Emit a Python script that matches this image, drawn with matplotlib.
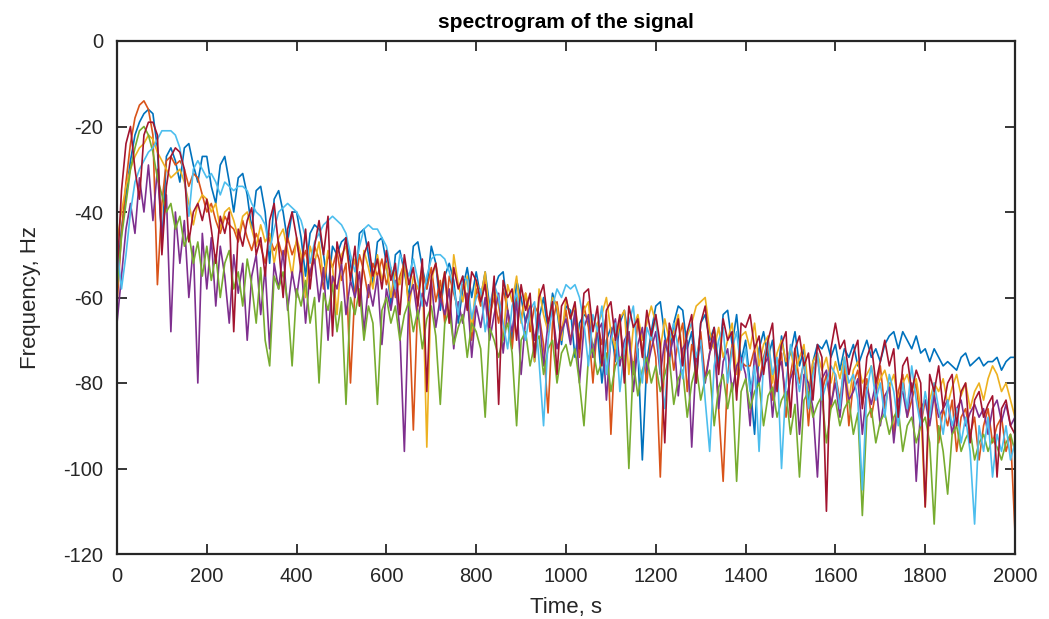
import numpy as np
import matplotlib
matplotlib.use("Agg")
import matplotlib.pyplot as plt

plt.rcParams['font.family'] = ['Liberation Sans Narrow', 'Liberation Sans', 'DejaVu Sans']
plt.rcParams['axes.unicode_minus'] = False

# time axis (s), sampled every 10 s
time_s = np.arange(0, 2001, 10)

blue = [
    -55, -44, -36, -28, -22, -19, -17, -16, -17, -25, -48, -27, -25, -28, -33, -25, -24, -29, -33, -27,
    -27, -34, -38, -29, -27, -33, -40, -32, -31, -36, -44, -35, -34, -40, -52, -37, -35, -40, -47, -40,
    -40, -46, -55, -45, -43, -44, -50, -58, -48, -50, -47, -46, -52, -60, -45, -44, -50, -57, -47, -46,
    -52, -62, -50, -49, -54, -60, -48, -47, -53, -58, -48, -52, -63, -55, -52, -56, -66, -58, -53, -60,
    -54, -60, -54, -62, -58, -55, -54, -63, -70, -56, -60, -66, -62, -75, -65, -60, -68, -59, -63, -71,
    -62, -63, -74, -66, -64, -65, -72, -68, -80, -70, -67, -75, -66, -63, -70, -78, -72, -98, -75, -68,
    -62, -61, -69, -75, -66, -62, -63, -72, -68, -80, -66, -64, -70, -67, -76, -64, -63, -71, -64, -75,
    -70, -80, -92, -72, -68, -74, -70, -81, -69, -76, -73, -68, -76, -72, -84, -75, -71, -72, -70, -74,
    -71, -77, -72, -74, -71, -76, -73, -70, -74, -72, -75, -71, -69, -68, -72, -68, -70, -72, -69, -73,
    -72, -75, -72, -74, -76, -75, -76, -77, -74, -73, -76, -75, -74, -76, -75, -75, -74, -77, -75, -74,
    -74]

orange = [
    -62, -45, -33, -24, -18, -15, -14, -16, -22, -57, -38, -28, -27, -29, -28, -30, -34, -31, -32, -36,
    -40, -38, -42, -45, -41, -43, -44, -47, -42, -46, -49, -45, -48, -52, -46, -49, -47, -51, -46, -50,
    -47, -52, -49, -55, -48, -51, -58, -50, -53, -49, -56, -52, -80, -58, -50, -54, -60, -52, -55, -51,
    -57, -53, -60, -55, -52, -62, -91, -60, -54, -58, -53, -61, -56, -66, -55, -59, -63, -57, -60, -70,
    -58, -62, -56, -64, -60, -66, -58, -63, -72, -60, -65, -59, -68, -62, -64, -71, -87, -66, -61, -68,
    -63, -70, -65, -74, -62, -67, -80, -66, -71, -64, -92, -70, -66, -75, -68, -78, -65, -72, -80, -68,
    -74, -102, -72, -68, -77, -70, -66, -82, -71, -75, -68, -79, -73, -70, -86, -103, -78, -71, -82, -75,
    -76, -76, -72, -80, -74, -70, -84, -76, -73, -88, -78, -72, -80, -75, -90, -77, -74, -82, -78, -86,
    -78, -84, -76, -90, -80, -77, -85, -79, -88, -82, -76, -86, -80, -92, -82, -78, -88, -84, -80, -90,
    -84, -88, -82, -94, -86, -90, -84, -96, -88, -86, -92, -88, -98, -90, -86, -94, -90, -88, -96, -92,
    -115]

yellow = [
    -47, -40, -34, -30, -27, -25, -24, -22, -23, -26, -28, -30, -32, -31, -30, -33, -38, -43, -38, -36,
    -37, -40, -38, -44, -40, -39, -42, -46, -41, -40, -44, -48, -43, -47, -45, -52, -46, -44, -49, -55,
    -46, -50, -60, -48, -52, -47, -56, -49, -53, -64, -50, -48, -55, -51, -62, -49, -53, -58, -50, -56,
    -52, -60, -54, -57, -51, -63, -55, -58, -53, -95, -56, -52, -59, -54, -66, -50, -57, -61, -55, -68,
    -56, -60, -54, -65, -58, -62, -70, -57, -61, -55, -66, -59, -63, -75, -58, -64, -68, -60, -62, -70,
    -60, -65, -62, -70, -63, -61, -74, -66, -64, -60, -68, -72, -65, -63, -78, -67, -64, -70, -66, -62,
    -66, -72, -65, -70, -68, -64, -74, -69, -66, -62, -61, -60, -68, -72, -67, -74, -70, -66, -78, -69,
    -68, -72, -66, -76, -71, -69, -80, -73, -70, -75, -72, -78, -74, -71, -82, -75, -73, -77, -74, -80,
    -75, -79, -74, -84, -77, -75, -80, -78, -76, -82, -79, -77, -81, -78, -84, -80, -78, -82, -79, -86,
    -109, -84, -80, -82, -79, -85, -81, -78, -83, -80, -86, -82, -80, -84, -79, -76, -78, -82, -80, -84,
    -88]

purple = [
    -66, -55, -44, -38, -45, -32, -40, -29, -42, -30, -46, -36, -68, -40, -52, -42, -60, -48, -80, -45,
    -58, -46, -62, -48, -55, -66, -50, -59, -52, -70, -55, -50, -64, -53, -72, -52, -58, -49, -63, -54,
    -60, -52, -66, -54, -51, -61, -53, -70, -55, -58, -52, -64, -56, -60, -54, -68, -57, -62, -55, -71,
    -58, -63, -56, -68, -96, -60, -57, -65, -59, -62, -56, -67, -60, -64, -58, -72, -61, -66, -59, -74,
    -62, -67, -60, -70, -64, -59, -73, -63, -68, -61, -78, -65, -62, -70, -64, -76, -66, -63, -72, -68,
    -65, -71, -63, -80, -67, -64, -74, -68, -66, -84, -69, -65, -76, -70, -68, -82, -71, -67, -77, -72,
    -68, -78, -70, -74, -69, -83, -72, -70, -95, -74, -71, -80, -73, -69, -86, -75, -72, -82, -76, -74,
    -78, -90, -73, -80, -76, -74, -88, -77, -75, -84, -79, -76, -92, -78, -80, -86, -102, -79, -77, -85,
    -80, -88, -78, -84, -82, -79, -92, -81, -85, -80, -90, -83, -81, -94, -84, -82, -88, -80, -103, -86,
    -84, -90, -83, -88, -86, -84, -92, -86, -84, -90, -87, -85, -88, -86, -92, -86, -84, -89, -85, -90,
    -88]

green = [
    -58, -46, -38, -30, -25, -21, -20, -22, -26, -32, -36, -40, -38, -44, -41, -48, -45, -52, -47, -55,
    -48, -56, -50, -60, -52, -49, -58, -54, -62, -51, -57, -66, -53, -70, -76, -55, -58, -54, -61, -76,
    -58, -62, -56, -66, -60, -80, -59, -63, -57, -68, -61, -85, -60, -64, -58, -70, -62, -66, -85, -63,
    -60, -66, -62, -70, -64, -61, -68, -63, -72, -65, -62, -69, -85, -66, -63, -71, -67, -64, -74, -66,
    -68, -72, -88, -67, -70, -74, -69, -66, -73, -90, -70, -68, -76, -71, -69, -78, -72, -70, -80, -73,
    -71, -76, -72, -80, -90, -74, -72, -78, -75, -73, -82, -76, -74, -74, -100, -75, -83, -77, -74, -80,
    -76, -82, -78, -74, -85, -79, -77, -88, -80, -76, -84, -79, -77, -90, -81, -78, -86, -80, -103, -82,
    -79, -86, -82, -80, -90, -83, -81, -88, -84, -82, -92, -85, -102, -84, -82, -88, -85, -83, -94, -86,
    -84, -90, -86, -84, -92, -87, -111, -88, -86, -94, -89, -87, -92, -88, -86, -96, -90, -88, -94, -90,
    -88, -94, -113, -90, -96, -106, -92, -90, -96, -93, -91, -98, -94, -92, -96, -93, -95, -98, -94, -92,
    -96]

light_blue = [
    -48, -58, -50, -40, -33, -30, -28, -26, -25, -23, -21, -21, -21, -22, -25, -32, -41, -30, -28, -30,
    -32, -31, -33, -36, -33, -34, -35, -34, -34, -35, -38, -40, -41, -43, -49, -44, -40, -39, -38, -39,
    -40, -42, -46, -52, -47, -45, -43, -42, -41, -42, -43, -45, -50, -54, -48, -44, -43, -44, -44, -46,
    -48, -53, -58, -50, -52, -55, -51, -56, -62, -55, -51, -50, -50, -51, -54, -58, -64, -55, -56, -65,
    -60, -58, -68, -62, -57, -60, -66, -72, -62, -59, -65, -70, -63, -61, -75, -90, -70, -62, -58, -60,
    -57, -58, -57, -60, -66, -76, -64, -68, -62, -78, -70, -66, -82, -72, -66, -62, -74, -80, -67, -70,
    -64, -77, -86, -70, -66, -72, -79, -68, -66, -74, -70, -84, -96, -76, -70, -67, -80, -72, -68, -77,
    -72, -82, -76, -96, -75, -70, -78, -74, -100, -80, -71, -76, -82, -74, -86, -78, -73, -84, -80, -76,
    -78, -86, -74, -80, -78, -84, -105, -82, -76, -84, -80, -88, -78, -82, -90, -80, -86, -76, -84, -90,
    -82, -88, -80, -86, -92, -84, -90, -86, -94, -88, -96, -113, -90, -96, -88, -102, -92, -96, -90, -98,
    -94]

dark_red = [
    -55, -35, -24, -20, -30, -37, -22, -19, -19, -22, -50, -34, -27, -25, -26, -30, -47, -40, -38, -42,
    -37, -44, -52, -41, -45, -40, -68, -44, -48, -42, -39, -50, -46, -55, -42, -38, -48, -60, -44, -40,
    -46, -54, -44, -58, -48, -42, -50, -41, -69, -47, -52, -46, -56, -48, -62, -50, -47, -55, -51, -58,
    -49, -56, -52, -64, -50, -57, -53, -62, -51, -82, -55, -52, -60, -54, -66, -53, -58, -55, -63, -54,
    -56, -61, -57, -67, -55, -85, -56, -60, -58, -70, -57, -63, -59, -74, -60, -57, -66, -61, -78, -62,
    -60, -65, -61, -72, -59, -58, -68, -62, -76, -63, -61, -70, -64, -80, -62, -67, -65, -74, -63, -69,
    -64, -71, -94, -66, -70, -65, -76, -68, -64, -80, -66, -62, -72, -67, -78, -65, -70, -68, -84, -66,
    -67, -64, -72, -69, -78, -70, -66, -82, -71, -68, -88, -72, -69, -76, -73, -84, -71, -74, -110, -72,
    -66, -72, -70, -78, -73, -70, -86, -74, -71, -80, -75, -70, -76, -72, -88, -76, -74, -82, -77, -80,
    -109, -78, -82, -76, -86, -80, -78, -90, -82, -80, -94, -84, -82, -88, -85, -83, -102, -86, -84, -90,
    -92]

series = [blue, orange, yellow, purple, green, light_blue, dark_red]
colors = ['#0072BD', '#D95319', '#EDB120', '#7E2F8E', '#77AC30', '#4DBEEE', '#A2142F']

x_ticks = [0, 200, 400, 600, 800, 1000, 1200, 1400, 1600, 1800, 2000]
y_ticks = [-120, -100, -80, -60, -40, -20, 0]

fig = plt.figure(figsize=(10.49, 6.19), dpi=100)
ax = fig.add_axes([117/1049, 1-554/619, (1015-117)/1049, (554-41)/619])

for vals, c in zip(series, colors):
    ax.plot(time_s, vals, color=c, lw=1.2)

ax.set_xlim(0, 2000)
ax.set_ylim(-120, 0)
ax.set_xticks(x_ticks)
ax.set_yticks(y_ticks)
ax.tick_params(direction='in', top=True, right=True, length=7, width=1.3,
               labelsize=14.5, color='#262626', labelcolor='#262626')
ax.tick_params(axis='x', pad=9)
ax.tick_params(axis='y', pad=10)
for s in ax.spines.values():
    s.set_linewidth(1.6)
    s.set_color('#262626')

ax.set_title('spectrogram of the signal', fontsize=15, fontweight='bold', pad=9, color='black')
ax.set_xlabel('Time, s', fontsize=16, color='#262626', labelpad=8)
ax.set_ylabel('Frequency, Hz', fontsize=16, color='#262626', labelpad=16)

fig.savefig('out.png', dpi=100)
